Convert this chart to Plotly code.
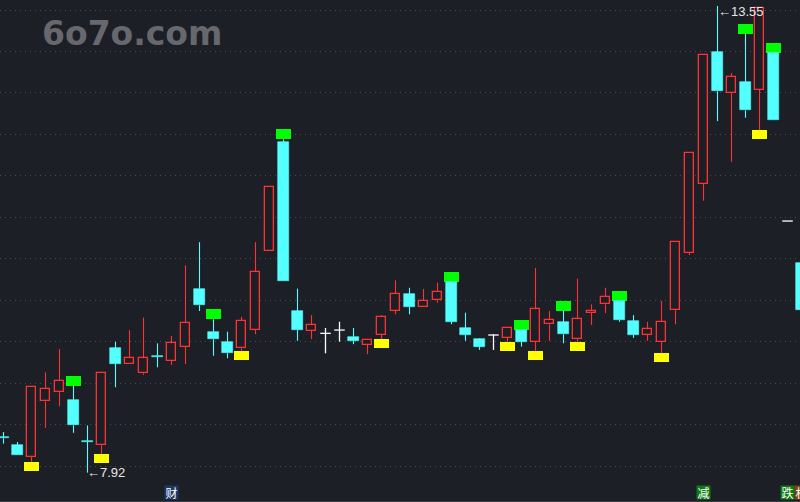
import plotly.graph_objects as go

# ---- data ----
idx = list(range(58))
opens = [8.345, 8.25, 8.11, 8.78, 8.89, 8.80, 8.305, 8.25, 9.42, 9.23,
         9.12, 9.325, 9.27, 9.44, 10.14, 9.62, 9.50, 9.42, 9.64, 10.59,
         11.91, 9.87, 9.63, 9.60, 9.64, 9.56, 9.46, 9.58, 9.87, 10.075,
         9.92, 10.00, 10.22, 9.665, 9.53, 9.58, 9.545, 9.64, 9.50, 9.71,
         9.74, 9.53, 9.845, 9.95, 9.99, 9.75, 9.58, 9.50, 9.88, 10.57,
         11.40, 12.99, 12.50, 12.63, 12.54, 12.98, 10.955, 10.45]
highs = [8.41, 8.29, 8.95, 9.13, 9.41, 8.97, 8.49, 9.12, 9.50, 9.64,
         9.79, 9.48, 9.57, 10.42, 10.70, 9.77, 9.62, 9.80, 10.70, 11.37,
         11.94, 10.14, 9.82, 9.665, 9.74, 9.665, 9.52, 9.82, 10.24, 10.15,
         10.135, 10.21, 10.22, 9.85, 9.54, 9.59, 9.68, 9.64, 10.39, 9.87,
         9.87, 10.26, 9.95, 10.15, 9.99, 9.82, 9.74, 9.99, 10.70, 11.78,
         12.96, 13.55, 12.74, 13.21, 13.525, 12.98, 10.955, 10.45]
lows = [8.27, 8.13, 8.05, 8.46, 8.72, 8.40, 7.92, 8.145, 8.95, 9.23,
        9.10, 9.19, 9.22, 9.23, 9.87, 9.33, 9.30, 9.39, 9.59, 10.59,
        10.23, 9.51, 9.53, 9.36, 9.50, 9.47, 9.35, 9.53, 9.83, 9.83,
        9.92, 9.97, 9.71, 9.51, 9.40, 9.40, 9.50, 9.44, 9.39, 9.51,
        9.48, 9.50, 9.70, 9.845, 9.74, 9.545, 9.51, 9.36, 9.71, 10.545,
        11.20, 12.16, 11.67, 12.20, 12.05, 12.17, 10.955, 9.88]
closes = [8.335, 8.13, 8.95, 8.93, 9.03, 8.49, 8.295, 9.12, 9.23, 9.30,
          9.30, 9.315, 9.48, 9.73, 9.94, 9.53, 9.36, 9.75, 10.34, 11.37,
          10.23, 9.64, 9.70, 9.60, 9.64, 9.51, 9.52, 9.80, 10.075, 9.92,
          9.99, 10.10, 9.74, 9.58, 9.44, 9.58, 9.665, 9.50, 9.89, 9.76,
          9.59, 9.77, 9.87, 10.04, 9.76, 9.58, 9.65, 9.74, 10.70, 11.78,
          12.96, 12.52, 12.69, 12.29, 13.525, 12.17, 10.955, 9.88]
green_marks = [5, 15, 20, 32, 37, 40, 44, 53, 55]     # signal boxes above the high
yellow_marks = [2, 7, 17, 27, 36, 38, 41, 47, 54]     # signal boxes below the low
low_label_idx, low_label = 6, "7.92"
high_label_idx, high_label = 51, "13.55"
tag_idx = [12, 50, 56, 57]
tag_text = ["财", "减", "跌", "机"]

# ---- styles ----
BG = "#1d1f27"
RED = "#ff3232"
CYAN = "#54ffff"
WHITE = "#ffffff"
GREEN = "#00ff00"
YELLOW = "#ffff00"
tag_bg = ["#1b3a68", "#0e7a12", "#0e7a12", "#7a4410"]
BODY_W = 0.75
MARK_W = 1.07
GREEN_H = 0.12
YELLOW_H = 0.11
X_RANGE = [-0.25, 56.893]

fig = go.Figure()

up = [i for i in idx if closes[i] > opens[i]]
dn = [i for i in idx if closes[i] < opens[i]]
dj = [i for i in idx if closes[i] == opens[i]]

def wicks(ids):
    xs, ys = [], []
    for i in ids:
        top = max(opens[i], closes[i])
        bot = min(opens[i], closes[i])
        if highs[i] > top:
            xs += [i, i, None]; ys += [highs[i], top, None]
        if lows[i] < bot:
            xs += [i, i, None]; ys += [bot, lows[i], None]
    return xs, ys

# markers
fig.add_trace(go.Bar(x=green_marks, y=[GREEN_H] * len(green_marks),
                     base=[highs[i] for i in green_marks], width=MARK_W,
                     marker=dict(color=GREEN, line=dict(width=0))))
fig.add_trace(go.Bar(x=yellow_marks, y=[YELLOW_H] * len(yellow_marks),
                     base=[lows[i] - YELLOW_H for i in yellow_marks], width=MARK_W,
                     marker=dict(color=YELLOW, line=dict(width=0))))
# bodies
fig.add_trace(go.Bar(x=up, y=[closes[i] - opens[i] for i in up],
                     base=[opens[i] for i in up], width=BODY_W - 0.08,
                     marker=dict(color=BG, line=dict(color=RED, width=1.3))))
fig.add_trace(go.Bar(x=dn, y=[opens[i] - closes[i] for i in dn],
                     base=[closes[i] for i in dn], width=BODY_W,
                     marker=dict(color=CYAN, line=dict(color=CYAN, width=0.6))))
# wicks
for ids, col in ((up, RED), (dn, CYAN)):
    xs, ys = wicks(ids)
    fig.add_trace(go.Scatter(x=xs, y=ys, mode="lines",
                             line=dict(color=col, width=1.1)))
# doji crosses
xs, ys = [], []
for i in dj:
    xs += [i - BODY_W / 2, i + BODY_W / 2, None]; ys += [opens[i], opens[i], None]
    if highs[i] > lows[i]:
        xs += [i, i, None]; ys += [highs[i], lows[i], None]
fig.add_trace(go.Scatter(x=xs, y=ys, mode="lines", line=dict(color=WHITE, width=1.3)))

ann = [
    dict(text="6o7o.com", xref="paper", yref="paper", x=0.05, y=0.934,
         xanchor="left", yanchor="middle", showarrow=False,
         font=dict(family="DejaVu Sans", size=33, color="#67686d", weight="bold")),
    dict(text="←" + low_label, x=low_label_idx, y=lows[low_label_idx],
         xanchor="left", yanchor="middle", showarrow=False, xshift=-3,
         font=dict(family="Liberation Sans", size=13, color="#e6e6e6")),
    dict(text="←" + high_label, x=high_label_idx, y=highs[high_label_idx],
         xanchor="left", yanchor="middle", showarrow=False, xshift=-2, yshift=-6,
         font=dict(family="Liberation Sans", size=13, color="#e6e6e6")),
]
span = X_RANGE[1] - X_RANGE[0]
for i, t, bg in zip(tag_idx, tag_text, tag_bg):
    ann.append(dict(text=t, x=(i - X_RANGE[0]) / span, xref="paper", yref="paper",
                    y=0.016, xanchor="center", yanchor="middle", showarrow=False,
                    bgcolor=bg, borderpad=0, width=13, height=13,
                    font=dict(family="Noto Sans CJK SC", size=12, color="#ffffff")))

fig.update_layout(
    width=800, height=502,
    margin=dict(l=0, r=0, t=0, b=1),
    paper_bgcolor=BG, plot_bgcolor=BG,
    barmode="overlay", bargap=0,
    showlegend=False, hovermode=False,
    annotations=ann,
    xaxis=dict(range=X_RANGE, showgrid=False, zeroline=False,
               showticklabels=False, showline=True, linecolor="#3a3d46",
               linewidth=1, ticks=""),
    yaxis=dict(range=[7.578, 13.621], tick0=8, dtick=0.5, showgrid=True,
               gridcolor="#4a4c55", griddash="1px,4px", gridwidth=1,
               zeroline=False, showticklabels=False, ticks=""),
)

fig.write_html("out.html", config={"displayModeBar": False},
               post_script="document.body.style.margin='0';document.body.style.overflow='hidden';")
